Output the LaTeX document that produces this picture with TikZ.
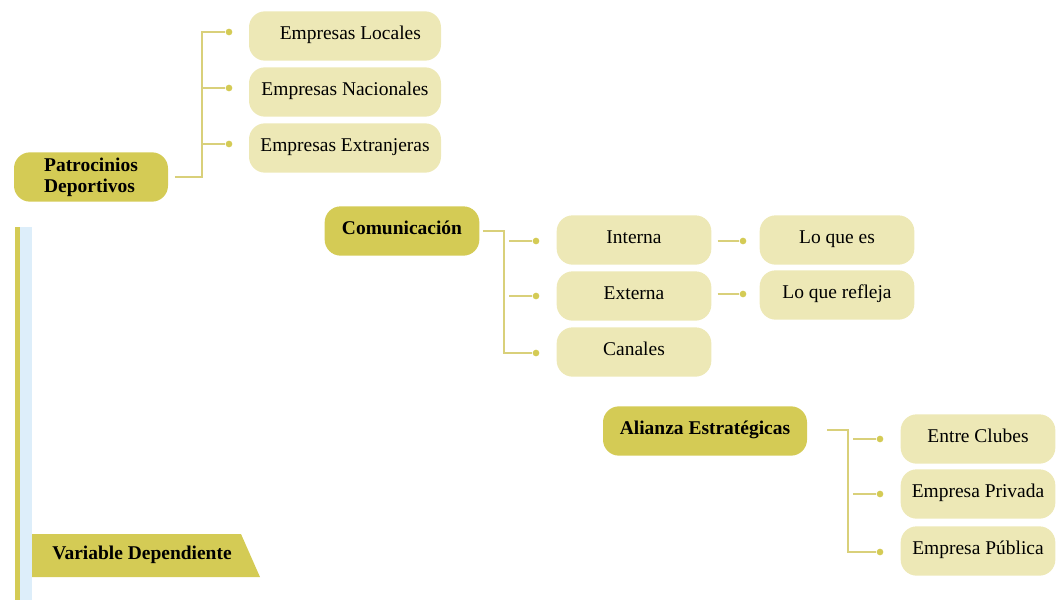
\documentclass[tikz,border=0pt]{standalone}
\usepackage{fontspec}
\setmainfont{LiberationSerif}[Extension=.ttf,UprightFont=*-Regular,BoldFont=*-Bold]
\definecolor{oliva}{HTML}{D4CB55}
\definecolor{crema}{HTML}{EDE8B6}
\definecolor{linea}{HTML}{D9D07A}
\definecolor{celeste}{HTML}{DDEEFA}
\begin{document}
\begin{tikzpicture}[x=0.75pt,y=-0.75pt,
	tema/.style={fill=oliva,rounded corners=12pt,minimum height=37pt,inner sep=0pt,font=\bfseries\fontsize{14.6}{16}\selectfont},
	sub/.style={fill=crema,rounded corners=12pt,minimum height=37pt,minimum width=116pt,inner sep=0pt,text height=10pt,text depth=5pt,font=\fontsize{14.6}{16}\selectfont},
	lin/.style={draw=linea,line width=1.5pt},
	punto/.style={fill=oliva,circle,inner sep=0pt,minimum size=5pt}]
	\useasboundingbox (0,0) rectangle (1060,600);
	\fill[oliva] (15,227) rectangle (20,600);
	\fill[celeste] (20,227) rectangle (32,600);
	\fill[oliva] (32,534)--(241,534)--(260,577)--(32,577)--cycle;
	\node[font=\bfseries\fontsize{14.6}{16}\selectfont] (vd) at (142,555) {Variable Dependiente};
	\node[tema,minimum width=115.5pt,align=left] (pd) at (91,177) {Patrocinios\\Deportivos};
	\node[sub,minimum width=144pt] (el) at (345,36) {\hspace{8pt}Empresas Locales};
	\node[sub,minimum width=144pt] (en) at (345,92) {Empresas Nacionales};
	\node[sub,minimum width=144pt] (ee) at (345,148) {Empresas Extranjeras};
	\node[punto] (d1) at (229,32) {};
	\node[punto] (d2) at (229,88) {};
	\node[punto] (d3) at (229,144) {};
	\draw[lin] ([xshift=5pt]pd.east)-|([xshift=-20pt]d1.center)--(d1);
	\draw[lin] ([xshift=-20pt]d2.center)--(d2);
	\draw[lin] ([xshift=-20pt]d3.center)--(d3);
	\node[tema,minimum width=116pt,text height=10pt,text depth=5pt] (co) at (402,231) {Comunicación};
	\node[sub] (in) at (634,240) {Interna};
	\node[sub] (ex) at (634,296) {Externa};
	\node[sub] (ca) at (634,352) {Canales};
	\node[punto] (c1) at (536,241) {};
	\node[punto] (c2) at (536,296) {};
	\node[punto] (c3) at (536,353) {};
	\draw[lin] ([xshift=2.5pt]co.east)-|([xshift=-24pt]c3.center)--(c3);
	\draw[lin] ([xshift=-20pt]c1.center)--(c1);
	\draw[lin] ([xshift=-20pt]c2.center)--(c2);
	\node[sub] (le) at (837,240) {Lo que es};
	\node[sub] (lr) at (837,295) {Lo que refleja};
	\node[punto] (i1) at (743,241) {};
	\node[punto] (i2) at (743,294) {};
	\draw[lin] ([xshift=4.5pt]in.east|-i1)--(i1);
	\draw[lin] ([xshift=4.5pt]ex.east|-i2)--(i2);
	\node[tema,minimum width=153pt,text height=10pt,text depth=5pt] (al) at (705,431) {Alianza Estratégicas};
	\node[sub] (ec) at (978,439) {Entre Clubes};
	\node[sub] (ep) at (978,494) {Empresa Privada};
	\node[sub] (eu) at (978,551) {Empresa Pública};
	\node[punto] (a1) at (880,439) {};
	\node[punto] (a2) at (880,494) {};
	\node[punto] (a3) at (880,552) {};
	\draw[lin] ([xshift=15pt]al.east|-0,430)-|([xshift=-24pt]a3.center)--(a3);
	\draw[lin] ([xshift=-20pt]a1.center)--(a1);
	\draw[lin] ([xshift=-20pt]a2.center)--(a2);
\end{tikzpicture}
\end{document}
